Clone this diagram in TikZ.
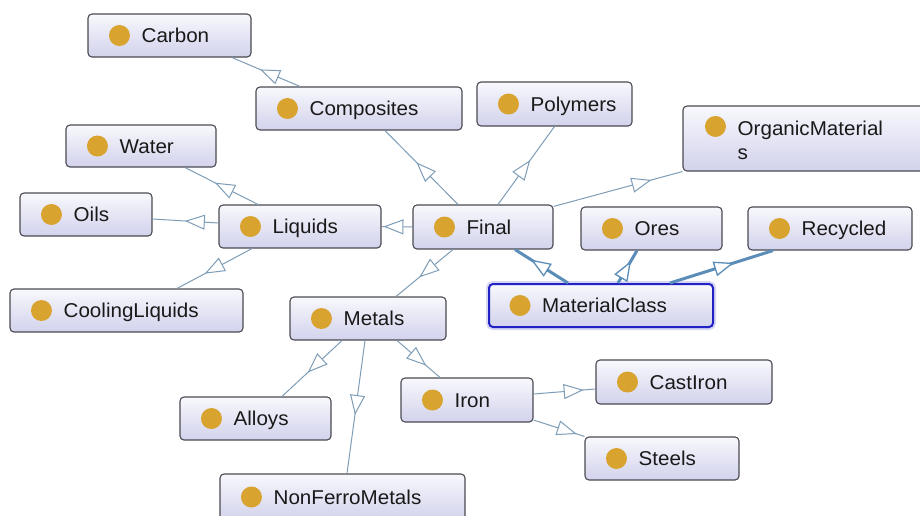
\documentclass[tikz,border=0pt]{standalone}
\usepackage{fontspec}
\setmainfont{Liberation Sans}[FakeStretch=1.03]
\usetikzlibrary{arrows.meta,decorations.markings}

\definecolor{edgec}{HTML}{7E9DB8}
\definecolor{edgeh}{HTML}{5B8DB9}
\definecolor{boxtop}{HTML}{F8F8FD}
\definecolor{boxbot}{HTML}{D2D2EC}
\definecolor{boxline}{HTML}{4A4A52}
\definecolor{dotc}{HTML}{D8A32E}
\definecolor{selc}{HTML}{2222C4}

\tikzset{
  clsbox/.style={draw=boxline, line width=1.1pt, rounded corners=4pt,
    top color=boxtop, bottom color=boxbot, inner sep=0pt},
  selbox/.style={clsbox, draw=selc, line width=2pt,
    preaction={draw=selc!18, line width=6pt}},
  clstext/.style={anchor=base west, inner sep=0pt,
    font=\fontsize{20}{24}\selectfont, text=black!90},
  isa/.style={edgec, line width=1pt, postaction={decorate, decoration={markings,
    mark=at position #1 with {\arrow{Triangle[length=20pt,width=15pt,fill=white,line width=1pt]}}}}},
  isasel/.style={edgeh, line width=3pt, postaction={decorate, decoration={markings,
    mark=at position #1 with {\arrow{Triangle[length=20pt,width=15pt,fill=white,line width=1.3pt]}}}}},
}

% class box: name, centre x, centre y, width, height, label
\newcommand\clsnode[7][clsbox]{%
  \node[#1, minimum width=#5pt, minimum height=#6pt] (#2) at (#3,#4) {};
  \fill[dotc] ([xshift=32pt]#2.west) circle (10.5pt);
  \node[clstext] at ([xshift=54pt,yshift=-7pt]#2.west) {#7};
}

\begin{document}
\begin{tikzpicture}[x=1pt,y=-1pt]
\useasboundingbox (0,0) rectangle (920,515);
\fill[white] (0,0) rectangle (920,515);
\clip (0,0) rectangle (920,515);

% classes
\clsnode{carbon}{169.5}{35.5}{163}{43}{Carbon}
\clsnode{composites}{359}{108.5}{206}{43}{Composites}
\clsnode{polymers}{554.5}{104}{155}{44}{Polymers}
\clsnode{water}{141}{146}{150}{42}{Water}
\clsnode{oils}{86}{214.5}{132}{43}{Oils}
\clsnode{liquids}{300}{226.5}{162}{43}{Liquids}
\clsnode{final}{483}{227}{140}{44}{Final}
\clsnode{ores}{651.5}{228.5}{141}{43}{Ores}
\clsnode{recycled}{830}{228.5}{164}{43}{Recycled}
\clsnode[selbox]{matclass}{601}{305.5}{224}{43}{MaterialClass}
\clsnode{cooling}{126.5}{310.5}{233}{43}{CoolingLiquids}
\clsnode{metals}{368}{318.5}{156}{43}{Metals}
\clsnode{iron}{467}{400}{132}{44}{Iron}
\clsnode{castiron}{684}{382}{176}{44}{CastIron}
\clsnode{alloys}{255.5}{418.5}{151}{43}{Alloys}
\clsnode{steels}{662}{458.5}{154}{43}{Steels}
\clsnode{nonferro}{342.5}{497}{245}{46}{NonFerroMetals}

% two-line class box
\node[clsbox, minimum width=252pt, minimum height=65pt] (organic) at (809,138.5) {};
\fill[dotc] ([xshift=33pt,yshift=-21pt]organic.north west) circle (10.5pt);
\node[clstext, anchor=west, align=left, font=\fontsize{20}{24}\selectfont]
  at ([xshift=55pt,yshift=-1.5pt]organic.west) {OrganicMaterial\\s};

% subclass links
\draw[isa=0.59] ([xshift=-59pt]composites.north) -- ([xshift=62.5pt]carbon.south);
\draw[isa=0.57] ([xshift=-25pt]final.north) -- ([xshift=26pt]composites.south);
\draw[isa=0.57] ([xshift=15pt]final.north) -- (polymers.south);
\draw[isa=0.76] ([yshift=-2pt]final.north east) -- (organic.south west);
\draw[isa=0.94] (final.west) -- (liquids.east);
\draw[isa=0.59] ([xshift=-30pt]final.south) -- ([xshift=28pt]metals.north);
\draw[isa=0.59] ([xshift=-42pt]liquids.north) -- ([xshift=44pt]water.south);
\draw[isa=0.51] ([yshift=3.5pt]liquids.west) -- ([yshift=-4.5pt]oils.east);
\draw[isa=0.63] ([xshift=-48pt]liquids.south) -- ([xshift=50.5pt]cooling.north);
\draw[isa=0.57] ([xshift=-26pt]metals.south) -- ([xshift=26.5pt]alloys.north);
\draw[isa=0.56] ([xshift=-3pt]metals.south) -- ([xshift=4.5pt]nonferro.north);
\draw[isa=0.68] ([xshift=29pt]metals.south) -- ([xshift=-27pt]iron.north);
\draw[isa=0.81] ([yshift=6pt]iron.east) -- ([yshift=-7pt]castiron.west);
\draw[isa=0.85] ([yshift=-20pt]iron.east) -- (steels.north west);

% links of the selected class
\draw[isasel=0.7] ([xshift=-33pt]matclass.north) -- ([xshift=32pt]final.south);
\draw[isasel=0.68] ([xshift=17pt]matclass.north) -- ([xshift=-14.5pt]ores.south);
\draw[isasel=0.62] ([xshift=69pt]matclass.north) -- ([xshift=-57pt]recycled.south);
\end{tikzpicture}
\end{document}
